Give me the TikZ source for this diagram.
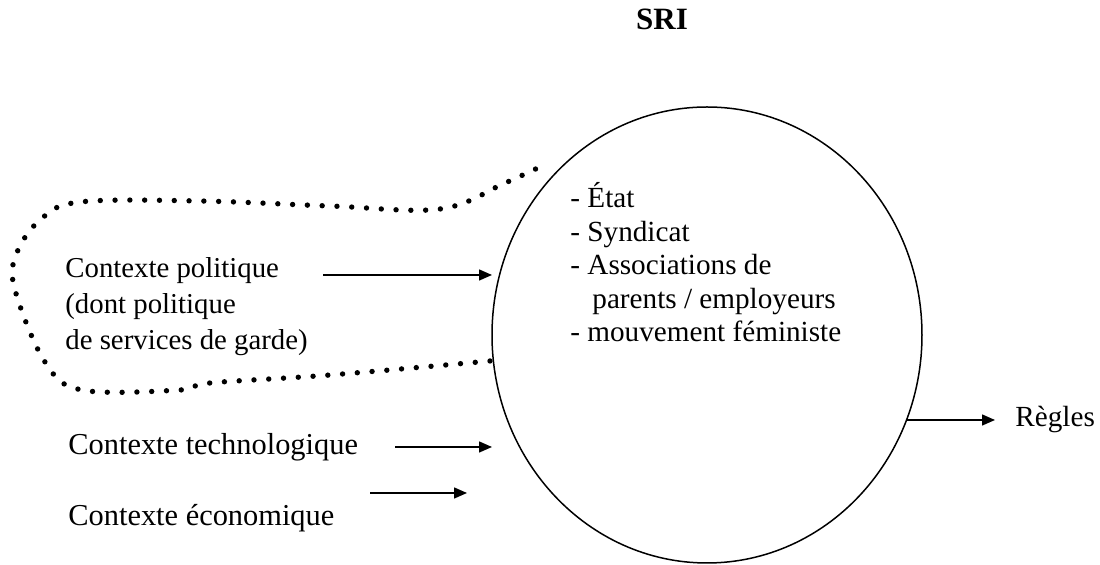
\documentclass[tikz,border=0pt]{standalone}
\usepackage{fontspec}
\setmainfont{Liberation Serif}
\usetikzlibrary{arrows.meta,shapes.geometric}

\begin{document}
\begin{tikzpicture}[x=0.5pt,y=-0.5pt]
\tikzstyle{label} = [inner sep=0pt, anchor=base west, align=left, font=\fontsize{15.2}{18}\selectfont]
\tikzstyle{arrow} = [line width=0.75pt, -{Triangle[length=6.5pt,width=5.5pt]}]
\tikzstyle{dots} = [line width=2.7pt, line cap=round, dash pattern=on 0pt off 7.4pt]

\useasboundingbox (0,0) rectangle (1100,565);

\node (sri) [inner sep=0pt, anchor=base, font=\fontsize{15.5}{18}\selectfont\bfseries] at (662,30) {SRI};
\node (sys) [ellipse, draw, line width=0.75pt, minimum width=215pt, minimum height=228pt, inner sep=0pt, outer sep=0pt] at (707,335) {};

% base = ligne du bas pour les noeuds sur plusieurs lignes
\node (acteurs) [label, font=\fontsize{14.6}{16.75}\selectfont] at (570,342) {- État\\- Syndicat\\- Associations de\\\hspace{11pt}parents / employeurs\\- mouvement féministe};
\node (pol) [label, font=\fontsize{14.4}{18}\selectfont] at (65,350) {Contexte politique\\(dont politique\\de services de garde)};
\node (tech) [label] at (68,455) {Contexte technologique};
\node (eco) [label] at (68,526) {Contexte économique};
\node (regles) [label, font=\fontsize{14.6}{18}\selectfont] at (1015,427) {Règles};

\coordinate (pol-a) at (323,275);
\coordinate (pol-b) at (492,275);
\coordinate (tech-a) at (395,447);
\coordinate (tech-b) at (492,447);
\coordinate (eco-a) at (370,493);
\coordinate (eco-b) at (467,493);
\coordinate (sys-out) at (907,420);
\coordinate (regles-in) at (995,420);

\draw [arrow] (pol-a) -- (pol-b);
\draw [arrow] (tech-a) -- (tech-b);
\draw [arrow] (eco-a) -- (eco-b);
\draw [arrow] (sys-out) -- (regles-in);

% contour pointille autour du contexte politique
\draw [dots] plot[smooth, tension=0.6] coordinates {(490,361) (330,375) (210,383) (180,390) (82,390) (45,362) (15,290) (16,255) (40,220) (80,202) (200,201) (330,206) (440,209) (505,183) (548,163)};

\end{tikzpicture}
\end{document}
